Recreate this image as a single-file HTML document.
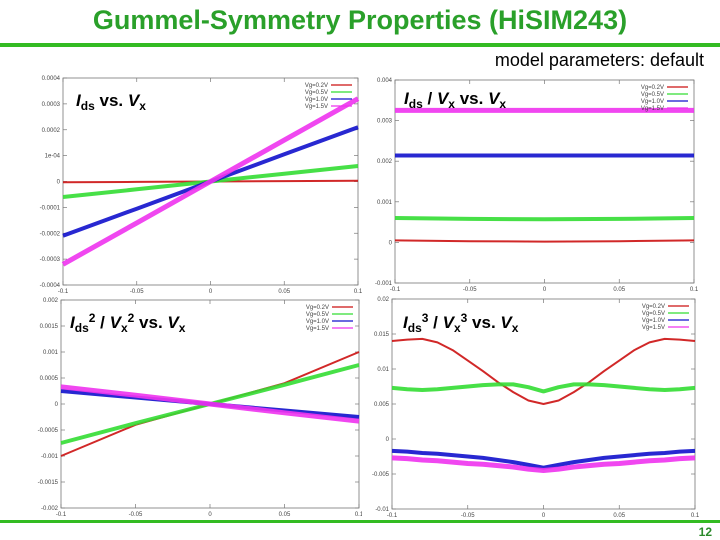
<!DOCTYPE html>
<html><head><meta charset="utf-8"><style>
body{margin:0;width:720px;height:540px;background:#fff;font-family:"Liberation Sans",sans-serif;overflow:hidden;position:relative}
#t{position:absolute;left:0;width:720px;top:5px;text-align:center;color:#2aa02a;font-weight:bold;font-size:27px}
#mp{position:absolute;right:16px;top:50px;font-size:18px;color:#000}
</style></head><body>
<div id="t">Gummel-Symmetry Properties (HiSIM243)</div>
<div id="mp">model parameters: default</div>
<svg id="s" width="720" height="540" style="position:absolute;left:0;top:0">
<rect x="0" y="43" width="720" height="4" fill="#33bb22"/>
<rect x="0" y="520" width="720" height="3" fill="#33bb22"/>
<text x="712" y="536" font-size="12" fill="#2a8a2a" font-weight="bold" text-anchor="end">12</text>
</svg>
<script>
const xs5=[-0.1,-0.05,0,0.05,0.1];
const xs21=[-0.1,-0.09,-0.08,-0.07,-0.06,-0.05,-0.04,-0.03,-0.02,-0.01,0,0.01,0.02,0.03,0.04,0.05,0.06,0.07,0.08,0.09,0.1];
const p1Red=[-0.000003,-0.0000015,0,0.0000015,0.000003];
const p1Green=[-0.00006,-0.00003,0,0.00003,0.00006];
const p1Blue=[-0.00021,-0.000105,0,0.000105,0.00021];
const p1Mag=[-0.00032,-0.00016,0,0.00016,0.00032];
const p2Red=[0.00005,0.00003,0.00002,0.00003,0.00005];
const p2Green=[0.0006,0.00058,0.00057,0.00058,0.0006];
const p2Blue=[0.00214,0.00214,0.00214,0.00214,0.00214];
const p2Mag=[0.00325,0.00325,0.00325,0.00325,0.00325];
const p3Red=[-0.001,-0.0004,0,0.0004,0.001];
const p3Green=[-0.00075,-0.00037,0,0.00037,0.00075];
const p3Blue=[0.00025,0.000125,0,-0.000125,-0.00025];
const p3Mag=[0.00033,0.00017,0,-0.00017,-0.00033];
const p4Red=[0.014,0.0142,0.0143,0.0138,0.0127,0.0112,0.0097,0.0081,0.0067,0.0055,0.005,0.0055,0.0067,0.0081,0.0097,0.0112,0.0127,0.0138,0.0143,0.0142,0.014];
const p4Green=[0.0073,0.0071,0.007,0.0071,0.0073,0.0075,0.0077,0.0078,0.0078,0.0074,0.0068,0.0074,0.0078,0.0078,0.0077,0.0075,0.0073,0.0071,0.007,0.0071,0.0073];
const p4Blue=[-0.0017,-0.0018,-0.002,-0.0021,-0.0023,-0.0025,-0.0027,-0.003,-0.0033,-0.0037,-0.0041,-0.0037,-0.0033,-0.003,-0.0027,-0.0025,-0.0023,-0.0021,-0.002,-0.0018,-0.0017];
const p4Mag=[-0.0027,-0.0028,-0.003,-0.0031,-0.0033,-0.0035,-0.0036,-0.0038,-0.004,-0.0043,-0.0045,-0.0043,-0.004,-0.0038,-0.0036,-0.0035,-0.0033,-0.0031,-0.003,-0.0028,-0.0027];
const xTickLabels=["-0.1","-0.05","0","0.05","0.1"];
const xTicks=[-0.1,-0.05,0,0.05,0.1];
const p1YTicks=[0.0004,0.0003,0.0002,0.0001,0,-0.0001,-0.0002,-0.0003,-0.0004];
const p1YLabels=["0.0004","0.0003","0.0002","1e-04","0","-0.0001","-0.0002","-0.0003","-0.0004"];
const p2YTicks=[0.004,0.003,0.002,0.001,0,-0.001];
const p2YLabels=["0.004","0.003","0.002","0.001","0","-0.001"];
const p3YTicks=[0.002,0.0015,0.001,0.0005,0,-0.0005,-0.001,-0.0015,-0.002];
const p3YLabels=["0.002","0.0015","0.001","0.0005","0","-0.0005","-0.001","-0.0015","-0.002"];
const p4YTicks=[0.02,0.015,0.01,0.005,0,-0.005,-0.01];
const p4YLabels=["0.02","0.015","0.01","0.005","0","-0.005","-0.01"];
const legendLabels=["Vg=0.2V","Vg=0.5V","Vg=1.0V","Vg=1.5V"];
const colors=["#cc1111","#33dd33","#1111cc","#ee33ee"];
const widths=[2,4,4,5];
const NS="http://www.w3.org/2000/svg";
const svg=document.getElementById('s');
function mk(tag,at,parent){const e=document.createElementNS(NS,tag);for(const k in at)e.setAttribute(k,at[k]);(parent||svg).appendChild(e);return e;}
function plot(name,box,pa,ymin,ymax,yt,yl,xsArr,series,title){
  const g=mk('g',{});
  
  
  const bg=mk('rect',{x:box[0],y:box[1],width:box[2],height:box[3],fill:'#fff'},g);
  
  
  const [x0,y0,x1,y1]=pa;
  const X=v=>x0+(v+0.1)/0.2*(x1-x0);
  const Y=v=>y1-(v-ymin)/(ymax-ymin)*(y1-y0);
  const fr=mk('rect',{x:x0,y:y0,width:x1-x0,height:y1-y0,fill:'none',stroke:'#777','stroke-width':0.8},g);
  
  
  yt.forEach((v,i)=>{const y=Y(v);
    mk('line',{x1:x0,x2:x0+4,y1:y,y2:y,stroke:'#777','stroke-width':0.7},g);
    mk('line',{x1:x1,x2:x1-4,y1:y,y2:y,stroke:'#777','stroke-width':0.7},g);
    const t=mk('text',{x:x0-3,y:y+2,'font-size':6,'text-anchor':'end',fill:'#444'},g);t.textContent=yl[i];
    
    });
  xTicks.forEach((v,i)=>{const x=X(v);
    mk('line',{x1:x,x2:x,y1:y1,y2:y1-4,stroke:'#777','stroke-width':0.7},g);
    mk('line',{x1:x,x2:x,y1:y0,y2:y0+4,stroke:'#777','stroke-width':0.7},g);
    const t=mk('text',{x:x,y:y1+8,'font-size':6,'text-anchor':'middle',fill:'#444'},g);t.textContent=xTickLabels[i];
    
    });
  series.forEach((s,k)=>{
    const pts=xsArr.map((x,i)=>X(x).toFixed(1)+','+Y(s[i]).toFixed(1)).join(' ');
    const l=mk('polyline',{points:pts,fill:'none',stroke:colors[k],'stroke-width':widths[k],'stroke-linejoin':'round',opacity:0.9},g);
    
    
    const ly=y0+7+k*7;
    const lt=mk('text',{x:x1-30,y:ly+2,'font-size':6,'text-anchor':'end',fill:'#444'},g);lt.textContent=legendLabels[k];
    
    
    mk('line',{x1:x1-27,x2:x1-6,y1:ly,y2:ly,stroke:colors[k],'stroke-width':1.2},g);
  });
  const tt=mk('text',{x:title[0],y:title[1],'font-size':17,'font-weight':'bold',fill:'#000'},g);
  tt.innerHTML=title[2];
  
  
}
const sub=s=>`<tspan font-size="12" dy="4">${s}</tspan><tspan dy="-4"> </tspan>`;
plot('ids-vs-vx-plot',[30,70,330,226],[63,78,358,285],-0.0004,0.0004,p1YTicks,p1YLabels,xs5,[p1Red,p1Green,p1Blue,p1Mag],[76,106,`<tspan font-style="italic">I</tspan>${sub('ds')}vs. <tspan font-style="italic">V</tspan>${sub('x')}`]);
plot('ids-over-vx-plot',[364,72,350,222],[395,80,694,283],-0.001,0.004,p2YTicks,p2YLabels,xs5,[p2Red,p2Green,p2Blue,p2Mag],[404,104,`<tspan font-style="italic">I</tspan>${sub('ds')}/ <tspan font-style="italic">V</tspan>${sub('x')}vs. <tspan font-style="italic">V</tspan>${sub('x')}`]);
plot('ids2-over-vx2-plot',[30,296,330,224],[61,300,359,508],-0.002,0.002,p3YTicks,p3YLabels,xs5,[p3Red,p3Green,p3Blue,p3Mag],[70,328,`<tspan font-style="italic">I</tspan><tspan font-size="12" dy="4">ds</tspan><tspan font-size="12" dy="-10">2</tspan><tspan dy="6"> / </tspan><tspan font-style="italic">V</tspan><tspan font-size="12" dy="4">x</tspan><tspan font-size="12" dy="-10">2</tspan><tspan dy="6"> vs. </tspan><tspan font-style="italic">V</tspan>${sub('x')}`]);
plot('ids3-over-vx3-plot',[362,294,352,226],[392,299,695,509],-0.01,0.02,p4YTicks,p4YLabels,xs21,[p4Red,p4Green,p4Blue,p4Mag],[403,328,`<tspan font-style="italic">I</tspan><tspan font-size="12" dy="4">ds</tspan><tspan font-size="12" dy="-10">3</tspan><tspan dy="6"> / </tspan><tspan font-style="italic">V</tspan><tspan font-size="12" dy="4">x</tspan><tspan font-size="12" dy="-10">3</tspan><tspan dy="6"> vs. </tspan><tspan font-style="italic">V</tspan>${sub('x')}`]);
</script>
</body></html>
